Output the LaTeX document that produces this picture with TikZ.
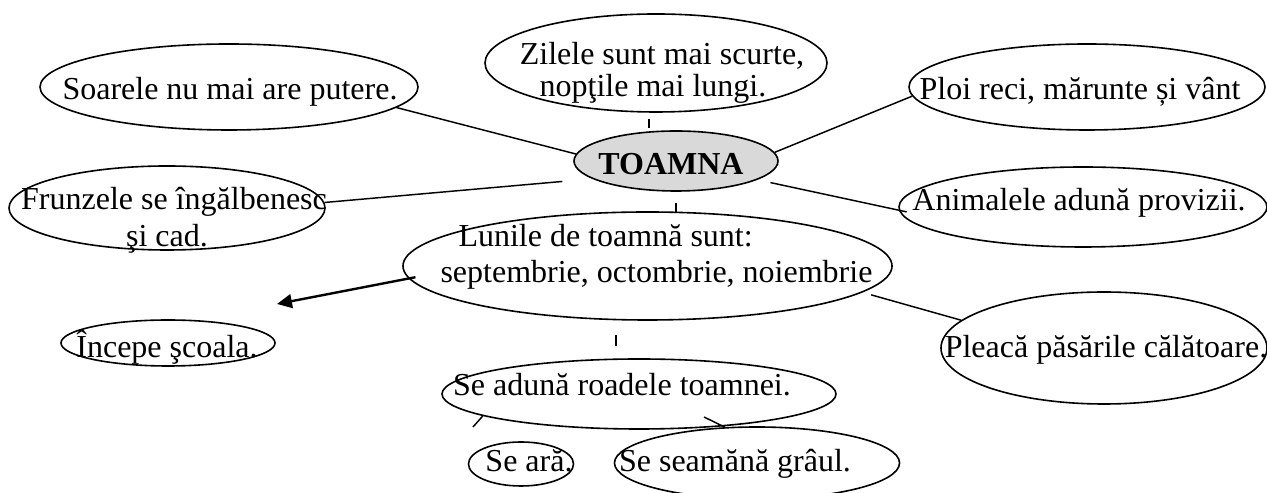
\documentclass[tikz,border=0pt]{standalone}
\usepackage{fontspec}
\setmainfont{Liberation Serif}
\usepackage{tikz}
\usetikzlibrary{shapes.geometric, arrows.meta}
\definecolor{toamnagrey}{RGB}{217,217,217}
\tikzset{
  bubble/.style={ellipse, draw=black, line width=0.6pt, inner sep=0pt},
  hub/.style={bubble, fill=toamnagrey},
  bubtext/.style={anchor=base, inner sep=0pt, font=\fontsize{12}{12}\selectfont},
  spoke/.style={draw=black, line width=0.55pt},
  spokearrow/.style={-{Triangle[length=5.6pt, width=5.2pt]}, draw=black, line width=0.9pt},
}
\begin{document}
\begin{tikzpicture}[x=0.375pt, y=-0.375pt]
\useasboundingbox (0,0) rectangle (1267,493);

% ellipses
\node[bubble, minimum width=141.75pt, minimum height=32.25pt] (soare) at (229,87) {};
\node[bubble, minimum width=128.25pt, minimum height=36.75pt] (zile) at (656,63) {};
\node[bubble, minimum width=133.5pt, minimum height=32.25pt] (ploi) at (1087,87) {};
\node[hub, minimum width=76.5pt, minimum height=22.5pt] (toamna) at (676,161) {};
\node[bubble, minimum width=118.5pt, minimum height=31.5pt] (frunze) at (167,208) {};
\node[bubble, minimum width=138pt, minimum height=30pt] (animale) at (1083,207) {};
\node[bubble, minimum width=183.4pt, minimum height=40.5pt] (luni) at (647.5,266) {};
\node[bubble, minimum width=80.25pt, minimum height=17.25pt] (incepe) at (168,343) {};
\node[bubble, minimum width=122.25pt, minimum height=42pt] (pleaca) at (1104,348) {};
\node[bubble, minimum width=147.75pt, minimum height=26.25pt] (aduna) at (639,394) {};
\node[bubble, minimum width=39.4pt, minimum height=16.5pt] (ara) at (521,464) {};
\node[bubble, minimum width=106.9pt, minimum height=27pt] (seamana) at (757,463) {};

\coordinate (tip) at (277,304);
\coordinate (arastub) at (473,427);
\coordinate (seamstub) at (704,417);

% connectors
\draw[spoke] (soare.-7) -- (toamna.176);
\draw[spoke, shorten <=2.25pt, shorten >=0.75pt] (zile.-98) -- (zile.-98 |- toamna.north);
\draw[spoke] (toamna.5) -- (ploi.183);
\draw[spoke, shorten >=11.25pt] (frunze.2) -- (toamna.192);
\draw[spoke, shorten <=5pt, shorten >=-3pt] (toamna.-13) -- (animale.181);
\draw[spoke, shorten <=4.1pt, shorten >=-0.75pt] (toamna.south) -- (toamna.south |- luni.north);
\draw[spokearrow, shorten <=-2.6pt] (luni.183) -- (tip);
\draw[spoke, shorten <=3.4pt] (luni.-7) -- (pleaca.169);
\draw[spoke, shorten <=5.6pt, shorten >=4.5pt] (luni.-120) -- (luni.-120 |- aduna.north);
\draw[spoke] (aduna.188) -- (arastub);
\draw[spoke] (seamstub) -- (seamana.132);

% texts
\node[bubtext] (soare-t) at (230,100) {Soarele nu mai are putere.};
\node[bubtext] (zile-t1) at (662,65) {Zilele sunt mai scurte,};
\node[bubtext] (zile-t2) at (653,97) {nopţile mai lungi.};
\node[bubtext] (ploi-t) at (1080,100) {Ploi reci, mărunte și vânt};
\node[bubtext, font=\fontsize{12}{12}\selectfont\bfseries] (toamna-t) at (671,175) {TOAMNA};
\node[bubtext] (frunze-t1) at (174,210) {Frunzele se îngălbenesc};
\node[bubtext] (frunze-t2) at (167,247) {şi cad.};
\node[bubtext] (animale-t) at (1079,211) {Animalele adună provizii.};
\node[bubtext, anchor=base west] (luni-t1) at (458,247) {Lunile de toamnă sunt:};
\node[bubtext, anchor=base west] (luni-t2) at (440,283) {septembrie, octombrie, noiembrie};
\node[bubtext] (incepe-t) at (167,358) {Începe şcoala.};
\node[bubtext] (pleaca-t) at (1106,358) {Pleacă păsările călătoare.};
\node[bubtext] (aduna-t) at (622,396) {Se adună roadele toamnei.};
\node[bubtext] (ara-t) at (529,472) {Se ară.};
\node[bubtext] (seamana-t) at (735,472) {Se seamănă grâul.};
\end{tikzpicture}
\end{document}
